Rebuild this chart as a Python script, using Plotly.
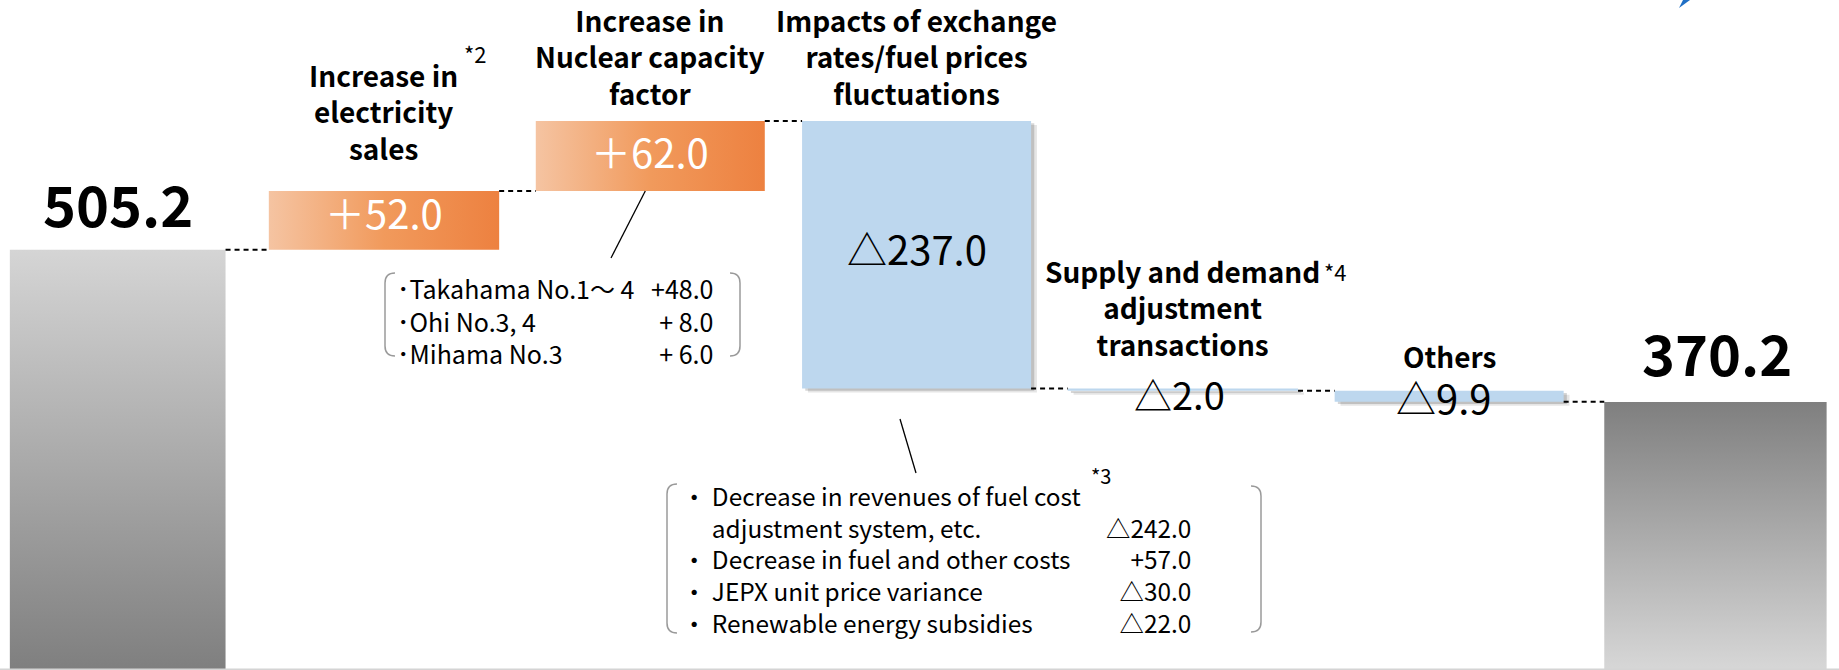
import plotly.graph_objects as go

# ---------------- data ----------------
categories = [
    "Previous result",
    "Increase in electricity sales",
    "Increase in Nuclear capacity factor",
    "Impacts of exchange rates/fuel prices fluctuations",
    "Supply and demand adjustment transactions",
    "Others",
    "Current result",
]
measures = ["total", "relative", "relative", "relative", "relative", "relative", "total"]
values = [505.2, 52.0, 62.0, -237.0, -2.0, -9.9, 370.2]
value_labels = ["505.2", "＋52.0", "＋62.0", "△237.0", "△2.0", "△9.9", "370.2"]
header_labels = [
    "",
    "Increase in<br>electricity<br>sales",
    "Increase in<br>Nuclear capacity<br>factor",
    "Impacts of exchange<br>rates/fuel prices<br>fluctuations",
    "Supply and demand<br>adjustment<br>transactions",
    "Others",
    "",
]
header_notes = ["", "*2", "", "", "*4", "", ""]

nuclear_items = ["･Takahama No.1～ 4", "･Ohi No.3, 4", "･Mihama No.3"]
nuclear_values = ["+48.0", "+ 8.0", "+ 6.0"]

fuel_items = [
    "・ Decrease in revenues of fuel cost",
    "\u3000 adjustment system, etc.",
    "・ Decrease in fuel and other costs",
    "・ JEPX unit price variance",
    "・ Renewable energy subsidies",
]
fuel_values = ["", "△242.0", "+57.0", "△30.0", "△22.0"]
fuel_note = "*3"

# ---------------- style ----------------
W, H = 1839, 670
BAR_WIDTHS = [0.81, 0.865, 0.86, 0.86, 0.865, 0.86, 0.835]
X_RANGE = [-0.442, 6.464]
Y_RANGE = [132.7, 726.4]
FONT = "Noto Sans CJK JP"
BLUE = "#bdd7ee"
GRAY_UP = [[0, "#7f7f7f"], [1, "#d5d5d5"]]      # light at top
GRAY_DOWN = [[0, "#d7d7d7"], [1, "#7f7f7f"]]    # dark at top
ORANGE = [[0, "#f5c4a2"], [0.5, "#f19a5c"], [1, "#ed8140"]]


def px(x):
    return x / W


def py(y):
    return 1 - y / H


def data_to_paper_x(v):
    return (v - X_RANGE[0]) / (X_RANGE[1] - X_RANGE[0])


def data_to_paper_y(v):
    return (v - Y_RANGE[0]) / (Y_RANGE[1] - Y_RANGE[0])


# ---------------- waterfall geometry from data ----------------
lo, hi, levels = [], [], []
level = 0.0
for m, v in zip(measures, values):
    if m == "total":
        b, t = 0.0, v
        level = v
    else:
        b, t = level, level + v
        level = level + v
    lo.append(min(b, t))
    hi.append(max(b, t))
    levels.append(level)

n = len(values)
fig = go.Figure()

# shadows for decreasing bars
neg_idx = [i for i in range(n) if measures[i] == "relative" and values[i] < 0]
for dx, dy, a in [(0.022, 3.5, 0.10), (0.012, 2.0, 0.16)]:
    fig.add_trace(go.Bar(
        x=[i + dx for i in neg_idx],
        y=[hi[i] - lo[i] for i in neg_idx],
        base=[lo[i] - dy for i in neg_idx],
        width=[BAR_WIDTHS[i] for i in neg_idx],
        marker=dict(color=f"rgba(0,0,0,{a})", line=dict(width=0)),
        hoverinfo="skip",
    ))

# decreasing bars (solid light blue)
fig.add_trace(go.Bar(
    x=neg_idx,
    y=[hi[i] - lo[i] for i in neg_idx],
    base=[lo[i] for i in neg_idx],
    width=[BAR_WIDTHS[i] for i in neg_idx],
    marker=dict(color=BLUE, line=dict(width=0)),
    hoverinfo="skip",
))

# totals and increases with gradient fills
for i in range(n):
    if measures[i] == "relative" and values[i] < 0:
        continue
    x0, x1 = i - BAR_WIDTHS[i] / 2, i + BAR_WIDTHS[i] / 2
    if measures[i] == "total":
        cs = GRAY_UP if i == 0 else GRAY_DOWN
        grad = dict(type="vertical", colorscale=cs,
                    start=max(lo[i], Y_RANGE[0]), stop=hi[i])
    else:
        grad = dict(type="horizontal", colorscale=ORANGE, start=x0, stop=x1)
    fig.add_trace(go.Scatter(
        x=[x0, x1, x1, x0, x0], y=[lo[i], lo[i], hi[i], hi[i], lo[i]],
        mode="lines", fill="toself", fillgradient=grad,
        line=dict(width=0, color="rgba(0,0,0,0)"), hoverinfo="skip",
    ))

# dashed connectors
cx, cy = [], []
for i in range(n - 1):
    cx += [i + BAR_WIDTHS[i] / 2, i + 1 - BAR_WIDTHS[i + 1] / 2, None]
    cy += [levels[i], levels[i], None]
fig.add_trace(go.Scatter(x=cx, y=cy, mode="lines",
                         line=dict(color="black", width=2, dash="5px,4px"),
                         hoverinfo="skip"))

ann = []
# big total labels
ann.append(dict(x=0, y=hi[0], text=value_labels[0], yanchor="bottom", yshift=5,
                font=dict(size=56, color="black", family=FONT, weight=700)))
ann.append(dict(x=6, y=hi[6], text=value_labels[6], yanchor="bottom", yshift=8, xshift=2,
                font=dict(size=56, color="black", family=FONT, weight=700)))
# inside labels
inner_shift = {1: 8, 2: 5, 3: 7}
for i in (1, 2):
    ann.append(dict(x=i, y=(lo[i] + hi[i]) / 2, text=value_labels[i], yanchor="middle",
                    yshift=inner_shift[i], font=dict(size=40, color="white", family=FONT)))
ann.append(dict(x=3, y=(lo[3] + hi[3]) / 2, text=value_labels[3], yanchor="middle",
                yshift=inner_shift[3], font=dict(size=40, color="black", family=FONT)))
ann.append(dict(x=4, y=lo[4], text=value_labels[4], yanchor="middle", yshift=-3, xshift=-3,
                font=dict(size=38, color="black", family=FONT)))
ann.append(dict(x=5, y=lo[5], text=value_labels[5], yanchor="middle", yshift=5, xshift=-5,
                font=dict(size=40, color="black", family=FONT)))
# headers
head_shift = {1: 21, 2: 6, 3: 6, 4: 22, 5: 13}
for i, t in enumerate(header_labels):
    if t:
        ann.append(dict(x=i, y=hi[i], text=t, yanchor="bottom", yshift=head_shift[i],
                        font=dict(size=28, color="black", family=FONT, weight=700)))
note_pos = {1: (91, 138), 4: (152, 117)}
for i, t in enumerate(header_notes):
    if t:
        dxs, dys = note_pos[i]
        ann.append(dict(x=i, y=hi[i], text=t, yanchor="middle", xshift=dxs, yshift=dys,
                        font=dict(size=22, color="black", family=FONT)))

# breakdown boxes (multi-line columns)
ann.append(dict(xref="paper", yref="paper", x=px(395), y=py(268), text="<br>".join(nuclear_items),
                xanchor="left", yanchor="top", align="left",
                font=dict(size=25, color="black", family=FONT)))
ann.append(dict(xref="paper", yref="paper", x=px(715), y=py(268), text="<br>".join(nuclear_values),
                xanchor="right", yanchor="top", align="right",
                font=dict(size=25, color="black", family=FONT)))
ann.append(dict(xref="paper", yref="paper", x=px(680), y=py(476), text="<br>".join(fuel_items),
                xanchor="left", yanchor="top", align="left",
                font=dict(size=24.4, color="black", family=FONT)))
ann.append(dict(xref="paper", yref="paper", x=px(1193), y=py(476),
                text="<br>".join(v if v else "\u00a0" for v in fuel_values),
                xanchor="right", yanchor="top", align="right",
                font=dict(size=24.4, color="black", family=FONT)))
ann.append(dict(xref="paper", yref="paper", x=px(1101), y=py(475), text=fuel_note,
                xanchor="center", yanchor="middle", font=dict(size=20, color="black", family=FONT)))

for a in ann:
    a.setdefault("showarrow", False)
    a.setdefault("xanchor", "center")

shapes = []


def bracket(x, top, bot, side, r=10):
    s = 1 if side == "left" else -1
    p = (f"M {px(x + s * r)},{py(top)} Q {px(x)},{py(top)} {px(x)},{py(top + r)} "
         f"L {px(x)},{py(bot - r)} Q {px(x)},{py(bot)} {px(x + s * r)},{py(bot)}")
    return dict(type="path", xref="paper", yref="paper", path=p,
                line=dict(color="#9a9a9a", width=1.5))


shapes += [bracket(385, 273, 356, "left"), bracket(740, 273, 356, "right"),
           bracket(667, 484, 633, "left"), bracket(1261, 486, 632, "right")]
# leader line from the bottom of the nuclear bar to its breakdown box
shapes.append(dict(type="line", xref="paper", yref="paper",
                   x0=data_to_paper_x(2) - px(5), y0=data_to_paper_y(lo[2]),
                   x1=px(611), y1=py(258), line=dict(color="black", width=1.3)))
shapes.append(dict(type="line", xref="paper", yref="paper", x0=px(900), y0=py(419),
                   x1=px(916), y1=py(473), line=dict(color="black", width=1.3)))
shapes.append(dict(type="line", xref="paper", yref="paper", x0=0, y0=py(669.5),
                   x1=1, y1=py(669.5), line=dict(color="#d4d4d4", width=2)))
shapes.append(dict(type="path", xref="paper", yref="paper",
                   path=f"M {px(1679)},{py(8)} L {px(1683)},{py(0)} L {px(1690)},{py(0)} Z",
                   fillcolor="#1f6fc5", line=dict(width=0)))

fig.update_layout(
    width=W, height=H, margin=dict(l=0, r=0, t=0, b=0),
    paper_bgcolor="white", plot_bgcolor="white",
    barmode="overlay", showlegend=False,
    xaxis=dict(range=X_RANGE, visible=False, fixedrange=True),
    yaxis=dict(range=Y_RANGE, visible=False, fixedrange=True),
    annotations=ann, shapes=shapes,
    font=dict(family=FONT),
)
fig.write_html(
    "out.html",
    config={"displayModeBar": False},
    post_script="document.body.style.margin='0';document.body.style.overflow='hidden';",
)
